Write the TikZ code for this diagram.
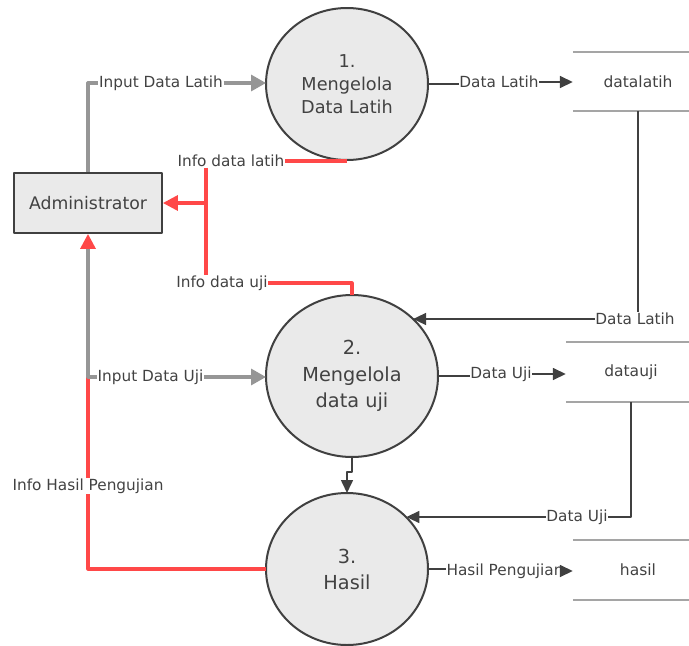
\documentclass[tikz,border=0pt]{standalone}
\usepackage{fontspec}
\setmainfont{DejaVu Sans}
\usetikzlibrary{shapes.geometric,arrows.meta}
\definecolor{lineGray}{RGB}{150,150,150}
\definecolor{lineRed}{RGB}{255,72,72}
\definecolor{lineDark}{RGB}{64,64,64}
\definecolor{storeGray}{RGB}{165,165,165}
\definecolor{procFill}{RGB}{234,234,234}
\definecolor{txtDark}{RGB}{66,66,66}
\begin{document}
\begin{tikzpicture}[x=1pt,y=-1pt,line join=round,text=txtDark,
	proc/.style={ellipse,draw=lineDark,line width=2pt,fill=procFill,inner sep=0pt,outer sep=0pt,align=center},
	ent/.style={rectangle,draw=lineDark,line width=1.8pt,fill=procFill,minimum width=148pt,minimum height=60pt,inner sep=0pt,font=\fontsize{17.3}{20}\selectfont},
	store/.style={rectangle,minimum width=130pt,minimum height=59pt,inner sep=0pt,font=\fontsize{15.5}{18}\selectfont},
	lbl/.style={inner sep=0.5pt,font=\fontsize{15.3}{18}\selectfont},
	storeLine/.style={draw=storeGray,line width=2.4pt},
	flowGray/.style={draw=lineGray,line width=3.2pt,-{Triangle[length=15pt,width=16pt]}},
	flowRed/.style={draw=lineRed,line width=3.2pt,-{Triangle[length=15pt,width=15pt]}},
	flowDark/.style={draw=lineDark,line width=1.6pt,-{Triangle[length=13pt,width=12pt]}}]
	\useasboundingbox (0,0) rectangle (689,646);
	\path (206,203) coordinate (jn);
	\node[ent] (admin) at (88,203) {Administrator};
	\node[proc,minimum width=162pt,minimum height=152pt,font=\fontsize{17.7}{23}\selectfont] (p1) at (347,84) {1.\\Mengelola\\Data Latih};
	\node[proc,minimum width=172pt,minimum height=162pt,font=\fontsize{19.3}{26.5}\selectfont] (p2) at (352,376) {2.\\Mengelola\\data uji};
	\node[proc,minimum width=162pt,minimum height=152pt,font=\fontsize{19.3}{26}\selectfont] (p3) at (347,569) {3.\\Hasil};
	\node[store] (s1) at (638,81.5) {datalatih};
	\node[store,minimum height=60pt] (s2) at (631,372) {datauji};
	\node[store,minimum height=60pt] (s3) at (638,570) {hasil};
	\draw[storeLine] (s1.north west) -- (s1.north east) (s1.south west) -- (s1.south east);
	\draw[storeLine] (s2.north west) -- (s2.north east) (s2.south west) -- (s2.south east);
	\draw[storeLine] (s3.north west) -- (s3.north east) (s3.south west) -- (s3.south east);
	\node[lbl] (lIDL) at (161,83) {Input Data Latih};
	\node[lbl] (lDL1) at (499,82) {Data Latih};
	\node[lbl] (lIdl) at (231,161) {Info data latih};
	\node[lbl] (lIdu) at (222,283) {Info data uji};
	\node[lbl] (lDL2) at (635,319) {Data Latih};
	\node[lbl] (lIDU) at (150.5,377) {Input Data Uji};
	\node[lbl] (lDU1) at (501,374) {Data Uji};
	\node[lbl] (lDU2) at (577,517) {Data Uji};
	\node[lbl] (lIHP) at (88,486) {Info Hasil Pengujian};
	\node[lbl] (lHP) at (505,571) {Hasil Pengujian};
	\draw[flowRed,-] (lIdl.east) -- (lIdl.east -| p1.south);
	\draw[flowRed,-] (lIdl.south -| jn) -- (lIdu.north -| jn);
	\draw[flowRed] (jn) -- (admin.east);
	\draw[flowRed,-] (lIdu.east) -| (p2.north);
	\draw[flowRed,-] (p3.west) -| (lIHP.south);
	\draw[flowRed] (lIHP.north) -- (admin.south);
	\draw[flowGray,-] (admin.north) |- (lIDL.west);
	\draw[flowGray] (lIDL.east) -- (lIDL.east -| p1.west);
	\draw[flowGray,-,shorten <=15pt] (admin.south) |- (lIDU.west);
	\draw[flowGray] (lIDU.east) -- (lIDU.east -| p2.west);
	\draw[flowDark,-] (p1.east) -- (p1.east -| lDL1.west);
	\draw[flowDark] (lDL1.east) -- (lDL1.east -| s1.west);
	\draw[flowDark,-] (s1.south) -- (s1.south |- lDL2.north);
	\draw[flowDark] (lDL2.west) -- (lDL2.west -| p2.43);
	\draw[flowDark,-] (p2.east) -- (p2.east -| lDU1.west);
	\draw[flowDark] (lDU1.east) -- (lDU1.east -| s2.west);
	\draw[flowDark,-] (s2.south) |- (lDU2.east);
	\draw[flowDark] (lDU2.west) -- (lDU2.west -| p3.41);
	\draw[flowDark] (p2.south) -- ++(0,15) -| (p3.north);
	\draw[flowDark,-] (p3.east) -- (p3.east -| lHP.west);
	\draw[flowDark] (lHP.east) -- (lHP.east -| s3.west);
\end{tikzpicture}
\end{document}
